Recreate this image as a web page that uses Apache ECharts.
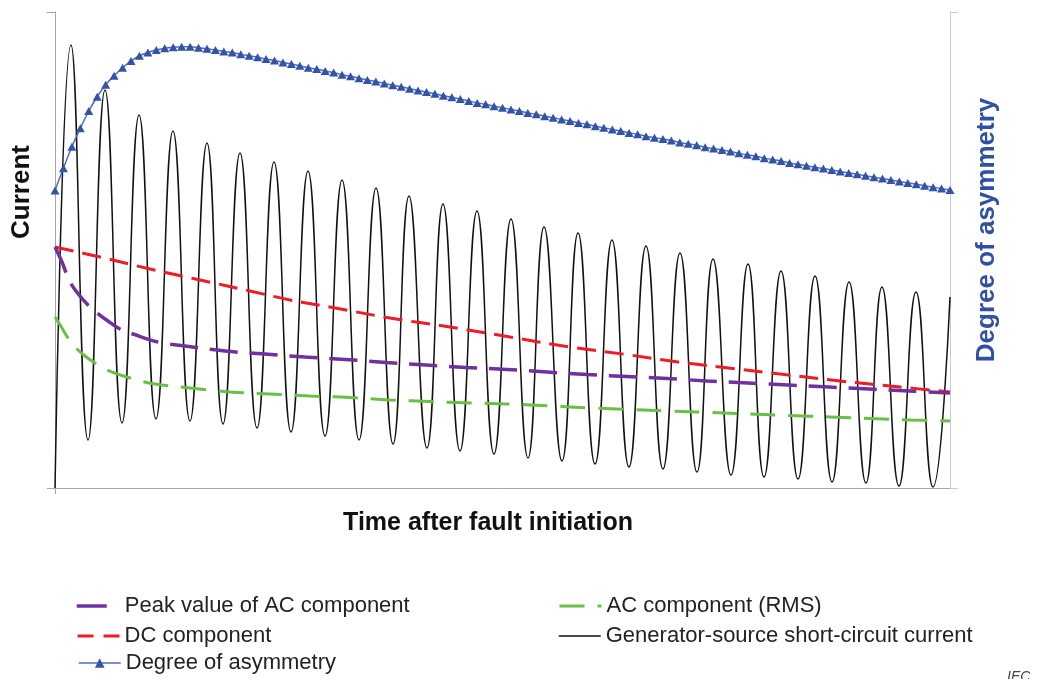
<!DOCTYPE html>
<html>
<head>
<meta charset="utf-8">
<script src="https://cdn.jsdelivr.net/npm/echarts@6/dist/echarts.min.js"></script>
<style>
html,body{margin:0;padding:0;background:#fff;}
#chart{width:1038px;height:679px;}
</style>
</head>
<body>
<div id="chart"></div>
<script>
// Normalised time (0..100) and current (0..100 of axis height)
// Generator-source short-circuit current: start, then alternating peaks and troughs
const scTime = [0, 1.79, 3.69, 5.59, 7.49, 9.39, 11.28, 13.18, 15.08, 16.98, 18.77, 20.67, 22.57, 24.47, 26.37, 28.27, 30.17, 32.07, 33.97, 35.87, 37.77, 39.55, 41.56, 43.35, 45.25, 47.15, 49.05, 50.95, 52.85, 54.64, 56.65, 58.44, 60.34, 62.23, 64.13, 66.03, 67.93, 69.83, 71.73, 73.52, 75.53, 77.43, 79.22, 81.12, 83.02, 84.92, 86.82, 88.72, 90.61, 92.40, 94.30, 96.20, 98.10, 100];
const scCurrent = [0, 93.07, 10.08, 83.61, 13.66, 78.36, 14.50, 75.00, 14.08, 72.48, 13.45, 70.38, 12.61, 68.49, 11.76, 66.60, 10.92, 64.71, 10.08, 63.03, 9.24, 61.34, 8.40, 59.66, 7.77, 58.19, 7.14, 56.51, 6.30, 54.83, 5.67, 53.57, 5.04, 52.10, 4.41, 50.84, 3.99, 49.37, 3.36, 48.11, 2.73, 47.06, 2.31, 45.59, 1.89, 44.54, 1.26, 43.28, 1.05, 42.23, 0.42, 41.18, 0.21, 40.13];

const dcTime = [0, 5.03, 10.61, 16.20, 21.79, 26.26, 30.73, 37.43, 44.13, 50.84, 57.54, 64.25, 69.61, 74.30, 81.01, 87.71, 94.41, 100];
const dcValue = [50.63, 48.53, 46.01, 43.70, 41.39, 39.50, 38.03, 35.71, 33.82, 31.72, 29.62, 27.94, 26.47, 25.42, 23.95, 22.48, 21.22, 20.17];

const acPeakTime = [0, 0.78, 1.68, 2.79, 3.69, 4.69, 5.92, 7.26, 8.72, 11.51, 14.53, 18.99, 23.46, 27.93, 32.40, 36.98, 41.45, 45.92, 50.50, 54.97, 59.44, 63.91, 68.38, 72.85, 77.43, 81.90, 86.48, 90.95, 95.42, 100];
const acPeakValue = [50.63, 47.48, 43.28, 40.34, 38.45, 36.76, 35.08, 33.40, 32.35, 30.67, 29.83, 28.78, 28.15, 27.52, 27.00, 26.37, 25.84, 25.32, 24.89, 24.37, 23.84, 23.42, 23.00, 22.48, 22.06, 21.64, 21.22, 20.80, 20.38, 19.96];

const rmsTime = [0, 0.78, 1.45, 2.23, 3.35, 4.47, 5.81, 8.38, 11.17, 15.08, 19.55, 24.02, 28.49, 32.96, 37.43, 41.90, 46.37, 50.84, 55.31, 59.78, 64.25, 68.72, 73.18, 77.65, 82.12, 86.59, 91.06, 95.53, 100];
const rmsValue = [35.92, 33.61, 31.51, 29.62, 27.73, 26.26, 24.79, 23.11, 21.85, 21.01, 20.17, 19.75, 19.33, 19.01, 18.49, 18.17, 17.86, 17.65, 17.23, 16.81, 16.49, 16.18, 15.86, 15.55, 15.23, 14.92, 14.60, 14.29, 14.08];

// Degree of asymmetry, sampled at equally spaced instants (107 samples)
const asymmetry = [62.5, 67.2, 71.7, 75.6, 79.2, 82.2, 84.7, 86.6, 88.3, 89.7,
  90.8, 91.5, 92.0, 92.4, 92.6, 92.7, 92.7, 92.5, 92.3, 92.0,
  91.7, 91.5, 91.1, 90.8, 90.5, 90.1, 89.8, 89.4, 89.1, 88.7,
  88.3, 88.0, 87.6, 87.3, 86.8, 86.5, 86.1, 85.7, 85.4, 85.0,
  84.6, 84.3, 83.9, 83.5, 83.2, 82.8, 82.4, 82.1, 81.7, 81.3,
  80.9, 80.6, 80.2, 79.9, 79.5, 79.2, 78.8, 78.5, 78.1, 77.8,
  77.4, 77.1, 76.7, 76.4, 76.0, 75.7, 75.3, 75.0, 74.6, 74.3,
  73.9, 73.6, 73.3, 73.0, 72.6, 72.3, 72.0, 71.6, 71.3, 71.0,
  70.7, 70.3, 70.0, 69.7, 69.3, 69.0, 68.7, 68.3, 68.0, 67.7,
  67.4, 67.1, 66.8, 66.5, 66.2, 65.9, 65.6, 65.3, 65.0, 64.7,
  64.4, 64.1, 63.8, 63.5, 63.2, 62.9, 62.6];

const names = {
  peak: 'Peak value of AC component',
  dc: 'DC component',
  asym: 'Degree of asymmetry',
  rms: 'AC component (RMS)',
  sc: 'Generator-source short-circuit current'
};

const FONT = "'Liberation Sans', Arial, Helvetica, sans-serif";
const pair = (xs, ys) => xs.map((x, i) => [x, ys[i]]);
const asymCats = asymmetry.map((_, i) => String(i));

const chart = echarts.init(document.getElementById('chart'), null, {renderer: 'canvas'});

const legendText = {fontFamily: FONT, fontSize: 22, color: '#222', lineHeight: 24};
function legend(name, left, top, w, lineStyle, extra) {
  return Object.assign({
    data: [name], left: left, top: top, itemWidth: w, itemHeight: 10,
    padding: 0, textStyle: Object.assign({}, legendText), selectedMode: false,
    lineStyle: lineStyle,
    itemStyle: {opacity: 0, color: 'rgba(0,0,0,0)', borderWidth: 0}
  }, extra || {});
}

chart.setOption({
  animation: false,
  backgroundColor: '#fff',
  grid: {left: 55, right: 88, top: 12, bottom: 191, containLabel: false},
  xAxis: [
    {type: 'value', min: 0, max: 100, interval: 100,
     axisLine: {show: true, lineStyle: {color: '#a6a6a6', width: 1}},
     axisTick: {show: true, length: 6, customValues: [0], lineStyle: {color: '#a6a6a6'}},
     axisLabel: {show: false}, splitLine: {show: false}},
    {type: 'category', data: asymCats, boundaryGap: false, show: false}
  ],
  yAxis: [
    {type: 'value', min: 0, max: 100, interval: 100, position: 'left',
     axisLine: {show: true, lineStyle: {color: '#a6a6a6', width: 1}},
     axisTick: {show: true, length: 8, lineStyle: {color: '#a6a6a6'}},
     axisLabel: {show: false}, splitLine: {show: false}},
    {type: 'value', min: 0, max: 100, interval: 100, position: 'right',
     axisLine: {show: true, lineStyle: {color: '#c3cbe6', width: 1}},
     axisTick: {show: true, length: 8, lineStyle: {color: '#c3cbe6'}},
     axisLabel: {show: false}, splitLine: {show: false}}
  ],
  legend: [
    legend(names.peak, 75, 594, 30, {color: '#7030a0', width: 3.5, type: 'solid'},
      {textStyle: Object.assign({}, legendText, {padding: [0, 0, 0, 13]})}),
    legend(names.dc, 76, 624, 42, {color: '#ee1c25', width: 3, type: [16, 10]}),
    legend(names.asym, 78, 651, 42, {color: '#4a6cc0', width: 1.5, type: 'solid'},
      {itemHeight: 12, itemStyle: {color: '#3352a8', opacity: 1}}),
    legend(names.rms, 558, 594, 42, {color: '#6abf45', width: 3, type: [25, 13]}),
    legend(names.sc, 558, 624, 42, {color: '#111', width: 1.5, type: 'solid'})
  ],
  series: [
    {name: names.sc, type: 'line', xAxisIndex: 0, yAxisIndex: 0,
     data: pair(scTime, scCurrent), smooth: 0.5, symbol: 'none',
     lineStyle: {color: '#111', width: 1.5}, itemStyle: {color: '#111'}, z: 2},
    {name: names.dc, type: 'line', xAxisIndex: 0, yAxisIndex: 0,
     data: pair(dcTime, dcValue), smooth: 0.4, symbol: 'none',
     lineStyle: {color: '#ee1c25', width: 3, type: [19, 9]}, itemStyle: {color: '#ee1c25'}, z: 3},
    {name: names.peak, type: 'line', xAxisIndex: 0, yAxisIndex: 0,
     data: pair(acPeakTime, acPeakValue), smooth: 0.4, symbol: 'none',
     lineStyle: {color: '#7030a0', width: 3.5, type: [28, 12]}, itemStyle: {color: '#7030a0'}, z: 3},
    {name: names.rms, type: 'line', xAxisIndex: 0, yAxisIndex: 0,
     data: pair(rmsTime, rmsValue), smooth: 0.4, symbol: 'none',
     lineStyle: {color: '#6abf45', width: 3, type: [25, 13]}, itemStyle: {color: '#6abf45'}, z: 3},
    {name: names.asym, type: 'line', xAxisIndex: 1, yAxisIndex: 1,
     data: asymmetry, smooth: 0.3, symbol: 'triangle', symbolSize: [9, 8], showAllSymbol: true,
     lineStyle: {color: '#4a6cc0', width: 1.5}, itemStyle: {color: '#3352a8'}, z: 4}
  ],
  graphic: [
    {type: 'text', x: 22, y: 192, rotation: Math.PI / 2,
     style: {text: 'Current', font: "bold 26px " + FONT, fill: '#111', textAlign: 'center', textVerticalAlign: 'middle', align: 'center', verticalAlign: 'middle'}},
    {type: 'text', x: 987, y: 230, rotation: Math.PI / 2,
     style: {text: 'Degree of asymmetry', font: "bold 26px " + FONT, fill: '#3050a3', textAlign: 'center', textVerticalAlign: 'middle', align: 'center', verticalAlign: 'middle'}},
    {type: 'text', x: 488, y: 523,
     style: {text: 'Time after fault initiation', font: "bold 25px " + FONT, fill: '#111', textAlign: 'center', textVerticalAlign: 'middle', align: 'center', verticalAlign: 'middle'}},
    {type: 'text', x: 1007, y: 670,
     style: {text: 'IEC', font: "italic 14px " + FONT, fill: '#444', textAlign: 'left', textVerticalAlign: 'top', align: 'left', verticalAlign: 'top'}}
  ]
});
</script>
</body>
</html>
